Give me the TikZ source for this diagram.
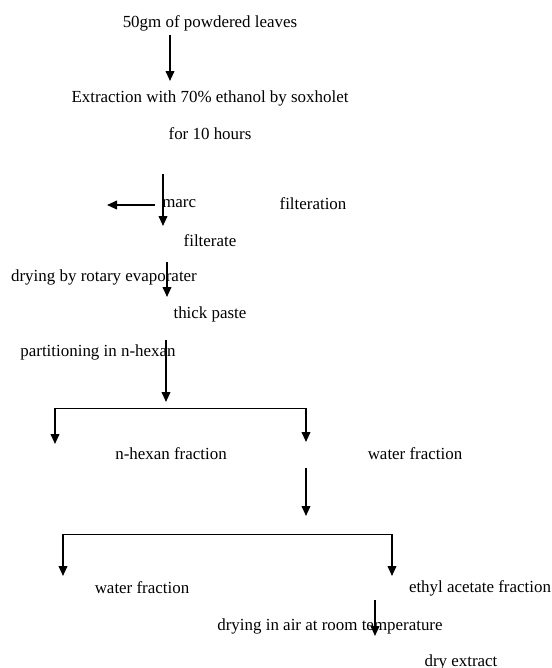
\documentclass[tikz,border=0pt]{standalone}
\usepackage{fontspec}
\setmainfont{Liberation Serif}
\usetikzlibrary{positioning, arrows.meta}
\tikzset{
  stagetext/.style={inner sep=0pt, font=\fontsize{12.7}{14}\selectfont},
  flowarrow/.style={-{Triangle[length=7.5pt,width=6.5pt]}, line width=1.3pt},
  splitline/.style={line width=0.6pt}
}

\begin{document}
\begin{tikzpicture}[x=0.75pt, y=-0.75pt]
\useasboundingbox (0,0) rectangle (552,668);

% stages
\node[stagetext] (leaves) at (210,23) {50gm of powdered leaves};
\node[stagetext] (extract) at (210,98) {Extraction with 70\% ethanol by soxholet};
\node[stagetext] (hours) at (210,134) {for 10 hours};
\node[stagetext, anchor=west] (marc) at (162,204) {marc};
\node[stagetext] (filtration) at (313,204) {filteration};
\node[stagetext] (filterate) at (210,241) {filterate};
\node[stagetext] (rotary) at (104,277) {drying by rotary evaporater};
\node[stagetext] (paste) at (210,314) {thick paste};
\node[stagetext] (partition) at (98,352) {partitioning in n-hexan};
\node[stagetext] (hexanfrac) at (171,454) {n-hexan fraction};
\node[stagetext] (waterfrac) at (415,454) {water fraction};
\node[stagetext] (waterfractwo) at (142,588) {water fraction};
\node[stagetext] (ethylfrac) at (480,588) {ethyl acetate fraction};
\node[stagetext] (airdry) at (330,626) {drying in air at room temperature};
\node[stagetext] (dryext) at (461,662) {dry extract};

% arrow ends
\coordinate (leavesout) at (170,35);
\coordinate (extractin) at (170,81);
\coordinate (filterout) at (163,174);
\coordinate (filterin) at (163,226);
\coordinate (marcout) at (155,205);
\coordinate (marcin) at (107,205);
\coordinate (rotaryout) at (167,262);
\coordinate (pastein) at (167,297);
\coordinate (partout) at (166,340);
\coordinate (partin) at (166,402);
\coordinate (barleft) at (55,408);
\coordinate (barright) at (306,408);
\coordinate (hexanin) at (55,444);
\coordinate (waterin) at (306,442);
\coordinate (waterout) at (306,468);
\coordinate (wateroutend) at (306,516);
\coordinate (bartwoleft) at (63,534);
\coordinate (bartworight) at (392,534);
\coordinate (waterinb) at (63,576);
\coordinate (ethylin) at (392,576);
\coordinate (ethylout) at (375,600);
\coordinate (dryin) at (375,636);

\draw[flowarrow] (leavesout) -- (extractin);
\draw[flowarrow] (filterout) -- (filterin);
\draw[flowarrow] (marcout) -- (marcin);
\draw[flowarrow] (rotaryout) -- (pastein);
\draw[flowarrow] (partout) -- (partin);

\draw[splitline] (barleft) -- (barright);
\draw[flowarrow] (barleft) -- (hexanin);
\draw[flowarrow] (barright) -- (waterin);
\draw[flowarrow] (waterout) -- (wateroutend);

\draw[splitline] (bartwoleft) -- (bartworight);
\draw[flowarrow] (bartwoleft) -- (waterinb);
\draw[flowarrow] (bartworight) -- (ethylin);
\draw[flowarrow] (ethylout) -- (dryin);

\end{tikzpicture}
\end{document}
